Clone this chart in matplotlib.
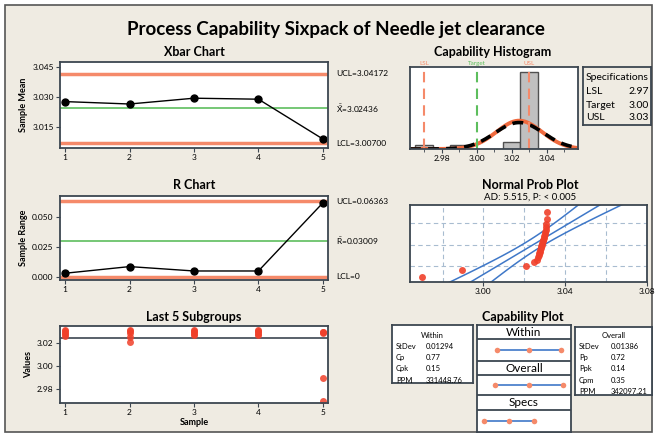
import numpy as np
import matplotlib.pyplot as plt
from matplotlib.patches import Rectangle
from statistics import NormalDist

plt.rcParams['font.family'] = ['Lato', 'DejaVu Sans']
plt.rcParams['mathtext.fontset'] = 'custom'
plt.rcParams['mathtext.rm'] = 'Lato'
plt.rcParams['mathtext.it'] = 'Lato'

# ---- data ----
samples = [1, 2, 3, 4, 5]
xbar = [3.0277, 3.0265, 3.0294, 3.0289, 3.0090]
ranges = [0.0029, 0.0085, 0.0048, 0.0048, 0.0622]
xbar_ucl, xbar_cl, xbar_lcl = 3.04172, 3.02436, 3.00700
r_ucl, r_cl, r_lcl = 0.06363, 0.03009, 0.0

subgroups = [
    [3.0262, 3.0272, 3.0283, 3.0298, 3.0306],
    [3.0208, 3.0245, 3.0286, 3.0301, 3.0309],
    [3.0267, 3.0278, 3.0291, 3.0302, 3.0310],
    [3.0270, 3.0275, 3.0293, 3.0304, 3.0307],
    [2.9700, 2.9897, 3.0282, 3.0288, 3.0296],
]

lsl, target, usl = 2.97, 3.00, 3.03
mean = 3.02436
sd_within = 0.01294
sd_overall = 0.01386

within_labels = ['StDev', 'Cp', 'Cpk', 'PPM']
within_values = ['0.01294', '0.77', '0.15', '331448.76']
overall_labels = ['StDev', 'Pp', 'Ppk', 'Cpm', 'PPM']
overall_values = ['0.01386', '0.72', '0.14', '0.35', '342097.21']

# ---- styling ----
W, H = 656, 434
BG = '#EFEBE2'
FRAME = '#3C4650'
LIMIT = '#F58A6A'
GREEN = '#5DBE5D'
RED = '#F0402A'
CURVE = '#F06A3E'
BLUE = '#3F78C8'

fig = plt.figure(figsize=(W / 100, H / 100), dpi=100)
fig.patch.set_facecolor('white')
fig.patches.append(Rectangle((5 / W, 1 - 432 / H), 647 / W, 427 / H,
                             transform=fig.transFigure, facecolor=BG,
                             edgecolor='#555555', lw=1.2, zorder=-10))


def ftext(x, y, s, **kw):
    return fig.text(x / W, 1 - y / H, s, **kw)


def make_ax(l, t, r, b):
    ax = fig.add_axes([l / W, 1 - b / H, (r - l) / W, (b - t) / H])
    ax.set_facecolor('white')
    for s in ax.spines.values():
        s.set_color(FRAME)
        s.set_linewidth(1.3)
    ax.tick_params(labelsize=6, length=3, width=0.8, color=FRAME, pad=1.5)
    return ax


ftext(336, 29, 'Process Capability Sixpack of Needle jet clearance',
      fontsize=13.5, fontweight='bold', ha='center', va='center')

# ---- Xbar chart ----
ax = make_ax(60, 62, 328, 148)
ax.axhline(xbar_ucl, color=LIMIT, lw=2.5)
ax.axhline(xbar_lcl, color=LIMIT, lw=2.5)
ax.axhline(xbar_cl, color=GREEN, lw=1.2)
ax.plot(samples, xbar, color='black', lw=1, marker='o', ms=5)
ax.set_xlim(0.92, 5.08)
ax.set_ylim(3.0045, 3.0475)
ax.set_xticks(samples)
ax.set_yticks([3.015, 3.030, 3.045])
ax.set_yticklabels(['3.015', '3.030', '3.045'])
ax.set_ylabel('Sample Mean', fontsize=6.5, fontweight='bold', labelpad=3)
tr = ax.get_yaxis_transform()
ax.text(1.03, xbar_ucl, 'UCL=3.04172', transform=tr, fontsize=6, va='center')
ax.text(1.03, xbar_cl, r'$\bar{\bar{X}}$=3.02436', transform=tr, fontsize=6, va='center')
ax.text(1.03, xbar_lcl, 'LCL=3.00700', transform=tr, fontsize=6, va='center')
ftext(194, 52, 'Xbar Chart', fontsize=9, fontweight='bold', ha='center', va='center')

# ---- R chart ----
ax = make_ax(60, 196, 328, 280)
ax.axhline(r_ucl, color=LIMIT, lw=2.5)
ax.axhline(r_lcl, color=LIMIT, lw=2.5)
ax.axhline(r_cl, color=GREEN, lw=1.2)
ax.plot(samples, ranges, color='black', lw=1, marker='o', ms=5)
ax.set_xlim(0.92, 5.08)
ax.set_ylim(-0.0028, 0.068)
ax.set_xticks(samples)
ax.set_yticks([0, 0.025, 0.05])
ax.set_yticklabels(['0.000', '0.025', '0.050'])
ax.set_ylabel('Sample Range', fontsize=6.5, fontweight='bold', labelpad=3)
tr = ax.get_yaxis_transform()
ax.text(1.03, r_ucl, 'UCL=0.06363', transform=tr, fontsize=6, va='center')
ax.text(1.03, r_cl, r'$\bar{R}$=0.03009', transform=tr, fontsize=6, va='center')
ax.text(1.03, r_lcl, 'LCL=0', transform=tr, fontsize=6, va='center')
ftext(194, 185, 'R Chart', fontsize=9, fontweight='bold', ha='center', va='center')

# ---- Last 5 subgroups ----
ax = make_ax(60, 326, 328, 403)
ax.axhline(xbar_cl, color=FRAME, lw=1.2)
for s, vals in zip(samples, subgroups):
    ax.plot([s] * len(vals), vals, 'o', color=RED, ms=5, alpha=0.85, mec='none')
ax.set_xlim(0.92, 5.08)
ax.set_ylim(2.968, 3.0344)
ax.set_xticks(samples)
ax.set_yticks([2.98, 3.00, 3.02])
ax.set_yticklabels(['2.98', '3.00', '3.02'])
ax.set_ylabel('Values', fontsize=6.5, fontweight='bold', labelpad=3)
ax.set_xlabel('Sample', fontsize=6.5, fontweight='bold', labelpad=1)
ftext(194, 317, 'Last 5 Subgroups', fontsize=9, fontweight='bold', ha='center', va='center')

# ---- Capability histogram ----
all_vals = np.concatenate(subgroups)
ax = make_ax(410, 67, 578, 149)
bins = np.arange(2.965, 3.0551, 0.01)
ax.hist(all_vals, bins=bins, color='#C0C0C0', edgecolor='#505050', lw=1)
xs = np.linspace(2.9619, 3.058, 300)
binw = 0.01
for sd, style in [(sd_within, dict(color=CURVE, lw=2.8, ls='-')),
                  (sd_overall, dict(color='black', lw=2.6, ls=(0, (3, 2))))]:
    ys = len(all_vals) * binw * np.exp(-0.5 * ((xs - mean) / sd) ** 2) / (sd * np.sqrt(2 * np.pi))
    ax.plot(xs, ys, **style)
for v, c, lab in [(lsl, LIMIT, 'LSL'), (target, GREEN, 'Target'), (usl, LIMIT, 'USL')]:
    ax.axvline(v, color=c, lw=1.5, ls=(0, (5, 3)))
    ax.text(v, 1.01, lab, transform=ax.get_xaxis_transform(), color=c,
            fontsize=4.5, ha='center', va='bottom')
ax.set_xlim(2.9619, 3.058)
ax.set_ylim(0, 22.3)
ax.set_yticks([])
ax.set_xticks([2.98, 3.00, 3.02, 3.04])
ax.set_xticklabels(['2.98', '3.00', '3.02', '3.04'])
ax.set_xticks(np.arange(2.97, 3.055, 0.01), minor=True)
ax.tick_params(which='minor', length=2, color=FRAME)
ftext(493, 52, 'Capability Histogram', fontsize=9, fontweight='bold', ha='center', va='center')

# specifications box
ax = make_ax(583, 67, 651, 125)
ax.set_xticks([])
ax.set_yticks([])
ax.set_facecolor(BG)
ftext(586, 78, 'Specifications', fontsize=7.5, va='center')
for i, (lab, v) in enumerate([('LSL', lsl), ('Target', target), ('USL', usl)]):
    ftext(586, 92 + i * 13, lab, fontsize=7.5, va='center')
    ftext(649, 92 + i * 13, f'{v:.2f}', fontsize=7.5, va='center', ha='right')

# ---- Normal probability plot ----
ax = make_ax(410, 205, 647, 282)
nd = NormalDist()
sorted_vals = np.sort(all_vals)
n = len(sorted_vals)
zq = np.array([nd.inv_cdf((i - 0.3) / (n + 0.4)) for i in range(1, n + 1)])
zz = np.linspace(-3, 3, 100)
fit = mean + sd_overall * zz
half = 1.96 * sd_overall * np.sqrt(1 / n + zz ** 2 / (2 * n))
for xline in [fit - half, fit, fit + half]:
    ax.plot(xline, zz, color=BLUE, lw=1.1)
ax.plot(sorted_vals, zq, 'o', color=RED, ms=5, mec='none', alpha=0.9)
for gx in np.arange(2.98, 3.081, 0.02):
    ax.axvline(gx, color='#A8BCD0', lw=0.8, ls=(0, (4, 3)), zorder=0)
for p in [0.1, 0.5, 0.9]:
    ax.axhline(nd.inv_cdf(p), color='#A8BCD0', lw=0.8, ls=(0, (4, 3)), zorder=0)
ax.set_xlim(2.9641, 3.080)
ax.set_ylim(-2.21, 2.35)
ax.set_yticks([])
ax.set_xticks([3.00, 3.04, 3.08])
ax.set_xticklabels(['3.00', '3.04', '3.08'])
ftext(530, 185, 'Normal Prob Plot', fontsize=9, fontweight='bold', ha='center', va='center')
ftext(530, 197, 'AD: 5.515, P: < 0.005', fontsize=7, ha='center', va='center')

# ---- Capability plot ----
ftext(523, 317, 'Capability Plot', fontsize=9, fontweight='bold', ha='center', va='center')
ax = make_ax(477, 325, 571, 432)
ax.set_xticks([])
ax.set_yticks([])
ax.set_xlim(2.9615, 3.0753)
ax.set_ylim(432, 325)
for yy in [339, 361, 375, 395, 410]:
    ax.axhline(yy, color=FRAME, lw=1.3)
intervals = [
    ('Within', 332, 350, [mean - 3 * sd_within, mean, mean + 3 * sd_within]),
    ('Overall', 368, 385, [mean - 3 * sd_overall, mean, mean + 3 * sd_overall]),
    ('Specs', 402.5, 421, [lsl, target, usl]),
]
for lab, yh, yi, pts in intervals:
    ax.text(np.mean(ax.get_xlim()), yh, lab, fontsize=8.5, ha='center', va='center')
    ax.plot(pts, [yi] * 3, color=BLUE, lw=1.2)
    ax.plot(pts, [yi] * 3, 'o', color=LIMIT, ms=4, mec='none')

# within stats box
ax = make_ax(392, 325, 473, 383)
ax.set_xticks([])
ax.set_yticks([])
ftext(432, 335, 'Within', fontsize=5.5, ha='center', va='center')
for i, (lab, v) in enumerate(zip(within_labels, within_values)):
    ftext(396, 346.5 + i * 11.2, lab, fontsize=5.5, va='center')
    ftext(426, 346.5 + i * 11.2, v, fontsize=5.5, va='center')

# overall stats box
ax = make_ax(575, 327, 652, 395)
ax.set_xticks([])
ax.set_yticks([])
ftext(614, 335, 'Overall', fontsize=5.5, ha='center', va='center')
for i, (lab, v) in enumerate(zip(overall_labels, overall_values)):
    ftext(579, 346.5 + i * 11.2, lab, fontsize=5.5, va='center')
    ftext(611, 346.5 + i * 11.2, v, fontsize=5.5, va='center')

fig.savefig('out.png', dpi=100, facecolor=fig.get_facecolor())
